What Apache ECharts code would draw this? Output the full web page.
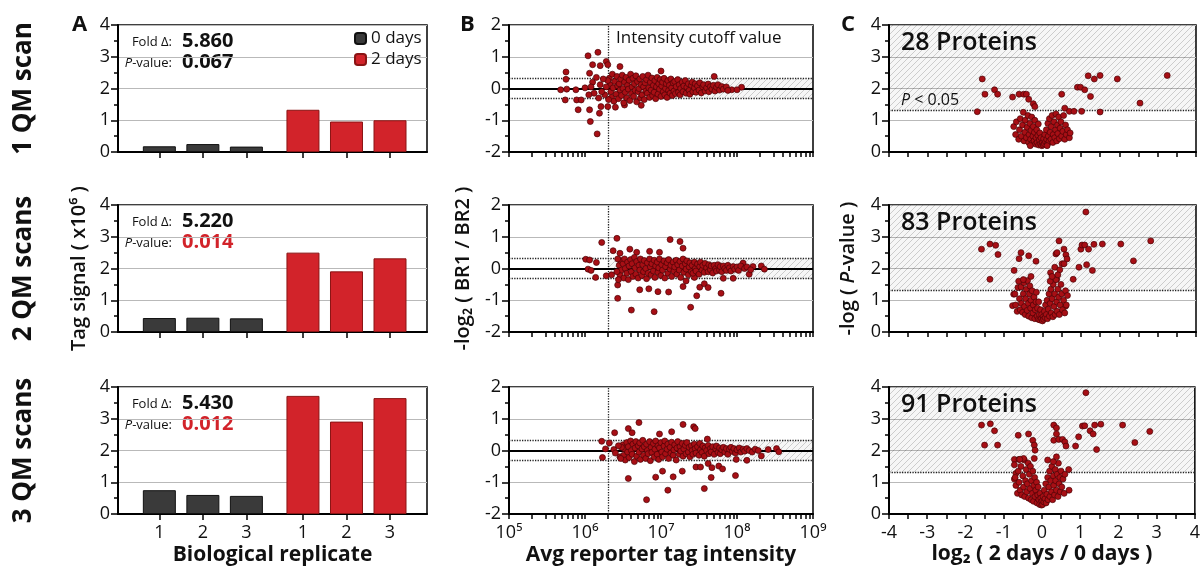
<!DOCTYPE html>
<html><head><meta charset="utf-8">
<script src="https://cdn.jsdelivr.net/npm/echarts@6/dist/echarts.min.js"></script>
<style>html,body{margin:0;padding:0;background:#fff}#c{width:1203px;height:571px}</style>
</head><body><div id="c"></div><script>
// ---------------- DATA ----------------
const rowNames = ['1 QM scan', '2 QM scans', '3 QM scans'];
const panelLetters = ['A', 'B', 'C'];
const replicates = ['1', '2', '3'];
const seriesNames = ['0 days', '2 days'];
// Tag signal (x10^6), per replicate
const day0Signal_1QM = [0.18, 0.25, 0.17];
const day2Signal_1QM = [1.33, 0.96, 1.00];
const day0Signal_2QM = [0.44, 0.45, 0.43];
const day2Signal_2QM = [2.50, 1.91, 2.32];
const day0Signal_3QM = [0.75, 0.60, 0.57];
const day2Signal_3QM = [3.72, 2.91, 3.65];
const foldChange = ['5.860', '5.220', '5.430'];
const pValues = ['0.067', '0.014', '0.012'];
const significantProteins = [28, 83, 91];
const intensityTickLabels = ['10⁵', '10⁶', '10⁷', '10⁸', '10⁹'];
const intensityCutoff = 2e6;
const ratioCutoff = 0.32;
const pCutoffLog = 1.301;

// MA plots: [log10(avg reporter intensity), -log2(BR1/BR2)]
const maPlot_1QM = [
[5.68,-0.04],[5.75,0.52],[5.75,0.29],[5.76,-0.02],[5.74,-0.36],[5.88,-0.04],[5.89,-0.36],[5.91,-0.67],[5.95,-0.36],[6.0,0.02],
[6.04,1.03],[6.17,1.14],[6.06,-0.67],[6.07,-1.04],[6.16,-1.43],[6.19,-0.78],[6.21,-0.57],[6.1,0.75],[6.06,0.48],[6.2,0.72],
[6.28,0.85],[6.3,0.75],[6.46,0.69],[6.3,-0.57],[6.4,-0.59],[6.52,-0.52],[6.74,-0.53],[7.0,0.55],[7.7,0.38],[7.84,0.01],
[7.93,-0.04],[8.06,0.04],[8.0,-0.04],[6.1,0.2],[6.12,-0.15],[6.15,0.35],[6.18,-0.3],[6.2,0.12],[6.05,-0.2],[6.08,0.05],
[6.32,0.32],[6.33,0.12],[6.34,-0.1],[6.35,-0.28],[6.36,0.45],[6.37,0.02],[6.38,-0.4],[6.39,0.22],[6.41,-0.18],[6.42,0.38],
[6.43,0.08],[6.44,-0.32],[6.45,0.15],[6.46,-0.05],[6.47,0.3],[6.48,-0.22],[6.49,0.42],[6.5,0.0],[6.51,-0.45],[6.52,0.2],
[6.53,-0.12],[6.54,0.35],[6.55,-0.3],[6.56,0.1],[6.57,-0.02],[6.58,0.26],[6.59,-0.38],[6.6,0.45],[6.61,-0.16],[6.62,0.05],
[6.63,0.32],[6.64,-0.25],[6.65,0.15],[6.66,-0.06],[6.67,0.4],[6.68,-0.42],[6.69,0.22],[6.7,-0.1],[6.71,0.0],[6.72,0.3],
[6.73,-0.3],[6.74,0.12],[6.75,-0.2],[6.76,0.38],[6.77,0.05],[6.78,-0.35],[6.79,0.18],[6.8,-0.08],[6.81,0.28],[6.82,-0.15],
[6.83,0.42],[6.84,0.02],[6.85,-0.28],[6.86,0.2],[6.87,-0.05],[6.88,0.33],[6.89,-0.22],[6.9,0.1],[6.91,-0.12],[6.92,0.25],
[6.93,-0.32],[6.94,0.05],[6.95,0.35],[6.96,-0.18],[6.97,0.15],[6.98,-0.02],[6.99,0.28],[7.0,-0.25],[7.01,0.08],[7.02,0.2],
[7.03,-0.1],[7.04,0.32],[7.05,-0.2],[7.06,0.0],[7.07,0.15],[7.08,-0.28],[7.09,0.25],[7.1,-0.06],[7.11,0.1],[7.12,-0.15],
[7.13,0.3],[7.14,0.02],[7.15,-0.22],[7.16,0.18],[7.17,-0.08],[7.18,0.22],[7.19,-0.16],[7.2,0.06],[7.22,0.28],[7.23,-0.12],
[7.24,0.12],[7.25,-0.2],[7.26,0.0],[7.28,0.2],[7.29,-0.1],[7.3,0.08],[7.32,0.25],[7.33,-0.15],[7.34,0.04],[7.36,0.15],
[7.37,-0.06],[7.38,-0.18],[7.4,0.1],[7.41,0.2],[7.42,-0.1],[7.44,0.02],[7.45,0.15],[7.46,-0.12],[7.48,0.08],[7.5,-0.05],
[7.51,0.18],[7.53,-0.14],[7.55,0.05],[7.56,0.12],[7.58,-0.08],[7.6,0.02],[7.62,0.14],[7.63,-0.1],[7.65,0.06],[7.67,-0.02],
[7.69,0.1],[7.71,-0.08],[7.73,0.04],[7.75,0.12],[7.77,-0.05],[7.8,0.06],[7.82,-0.02],[7.86,0.05],[7.88,-0.06],[6.28,0.05],
[6.26,-0.2],[6.3,0.25],[6.31,-0.35],[6.24,0.3],[6.22,-0.1]
];
const maPlot_2QM = [
[6.01,0.29],[6.06,0.27],[6.04,-0.02],[6.08,-0.06],[6.14,-0.28],[6.15,0.19],[6.22,0.82],[6.28,-0.23],[6.35,-0.2],[6.37,0.56],
[6.42,0.95],[6.43,-0.52],[6.43,-0.94],[6.46,0.48],[6.59,0.61],[6.61,-1.31],[6.68,0.51],[6.72,-0.67],[6.85,0.54],[6.84,-0.64],
[6.96,-0.73],[6.91,-1.36],[6.98,0.51],[7.1,-0.74],[7.12,0.91],[7.25,0.85],[7.29,0.64],[7.29,-0.57],[7.33,-0.39],[7.39,-1.22],
[7.44,-0.28],[7.47,-0.86],[7.51,-0.59],[7.57,-0.48],[7.62,-0.6],[7.79,-0.78],[7.82,-0.31],[7.95,-0.31],[8.16,-0.18],[8.32,0.08],
[8.36,-0.02],[8.21,0.06],[8.08,0.17],[8.06,0.04],
[6.45,0.1],[6.46,-0.2],[6.47,0.25],[6.48,-0.05],[6.5,0.15],[6.51,-0.3],[6.52,0.3],[6.53,0.0],[6.55,-0.15],[6.56,0.2],
[6.57,-0.35],[6.58,0.08],[6.6,0.28],[6.61,-0.1],[6.62,0.15],[6.63,-0.25],[6.65,0.35],[6.66,0.02],[6.67,-0.18],[6.68,0.22],
[6.7,-0.3],[6.71,0.1],[6.72,-0.05],[6.73,0.3],[6.75,-0.22],[6.76,0.12],[6.77,-0.1],[6.78,0.25],[6.8,0.0],[6.81,-0.32],
[6.82,0.18],[6.83,-0.15],[6.85,0.3],[6.86,0.05],[6.87,-0.2],[6.88,0.15],[6.9,-0.08],[6.91,0.26],[6.92,-0.28],[6.93,0.08],
[6.95,0.2],[6.96,-0.12],[6.97,0.02],[6.98,0.3],[7.0,-0.22],[7.01,0.12],[7.02,-0.05],[7.04,0.24],[7.05,-0.3],[7.06,0.06],
[7.08,0.18],[7.09,-0.15],[7.1,0.28],[7.12,-0.02],[7.13,0.1],[7.14,-0.25],[7.16,0.2],[7.17,-0.08],[7.18,0.05],[7.2,0.26],
[7.21,-0.18],[7.22,0.12],[7.24,-0.05],[7.25,0.22],[7.26,-0.28],[7.28,0.08],[7.29,0.3],[7.3,-0.12],[7.32,0.15],[7.33,-0.02],
[7.34,0.24],[7.36,-0.2],[7.37,0.05],[7.38,0.18],[7.4,-0.1],[7.41,0.1],[7.42,-0.15],[7.44,0.2],[7.45,0.0],[7.46,-0.08],
[7.48,0.14],[7.5,-0.18],[7.51,0.06],[7.52,0.2],[7.54,-0.05],[7.55,0.1],[7.57,-0.12],[7.58,0.16],[7.6,0.02],[7.62,-0.1],
[7.63,0.12],[7.65,-0.04],[7.66,0.08],[7.68,-0.14],[7.7,0.1],[7.72,0.0],[7.73,-0.08],[7.75,0.12],[7.77,-0.05],[7.78,0.06],
[7.8,-0.1],[7.82,0.08],[7.84,0.0],[7.86,-0.06],[7.88,0.1],[7.9,0.02],[7.92,-0.08],[7.95,0.06],[7.97,-0.02],[8.0,0.05],
[8.02,-0.06],[8.05,0.08],[8.1,0.0],[8.13,0.05],[8.18,-0.04],[6.43,0.3],[6.42,-0.1],[6.44,-0.35]
];
const maPlot_3QM = [
[6.22,0.29],[6.23,-0.22],[6.27,0.05],[6.32,0.24],[6.39,0.56],[6.38,0.03],[6.46,-0.2],[6.57,0.69],[6.62,0.56],[6.57,-0.88],
[6.71,0.88],[6.81,-1.55],[6.93,-0.84],[6.98,0.52],[7.02,-0.65],[7.09,-1.25],[7.14,0.59],[7.16,-0.83],[7.28,-0.65],[7.29,0.82],
[7.43,0.75],[7.45,0.69],[7.46,-0.52],[7.52,-0.52],[7.57,-1.2],[7.62,-0.41],[7.61,0.36],[7.66,-0.85],[7.67,-0.54],[7.76,-0.49],
[7.81,-0.58],[7.98,-0.79],[7.99,-0.28],[8.13,-0.31],[8.32,-0.17],[8.52,0.06],[8.55,-0.04],[8.41,0.03],
[6.5,0.18],[6.51,-0.15],[6.52,0.05],[6.53,-0.3],[6.55,0.25],[6.56,-0.05],[6.57,0.12],[6.58,-0.22],[6.6,0.3],[6.61,0.0],
[6.62,-0.12],[6.63,0.2],[6.65,-0.35],[6.66,0.08],[6.67,0.28],[6.68,-0.18],[6.7,0.15],[6.71,-0.05],[6.72,0.24],[6.73,-0.28],
[6.75,0.05],[6.76,0.32],[6.77,-0.15],[6.78,0.12],[6.8,-0.25],[6.81,0.2],[6.82,0.0],[6.83,-0.1],[6.85,0.28],[6.86,-0.32],
[6.87,0.1],[6.88,-0.06],[6.9,0.22],[6.91,-0.2],[6.92,0.04],[6.93,0.3],[6.95,-0.12],[6.96,0.15],[6.97,-0.28],[6.98,0.08],
[7.0,0.25],[7.01,-0.05],[7.02,-0.2],[7.04,0.14],[7.05,0.3],[7.06,-0.1],[7.08,0.04],[7.09,0.2],[7.1,-0.25],[7.12,0.1],
[7.13,-0.08],[7.14,0.26],[7.16,-0.15],[7.17,0.02],[7.18,0.18],[7.2,-0.3],[7.21,0.08],[7.22,0.28],[7.24,-0.12],[7.25,0.12],
[7.26,-0.02],[7.28,0.22],[7.29,-0.18],[7.3,0.05],[7.32,0.16],[7.33,-0.1],[7.34,0.25],[7.36,-0.05],[7.37,0.1],[7.38,-0.2],
[7.4,0.15],[7.41,0.0],[7.42,-0.12],[7.44,0.2],[7.45,0.06],[7.46,-0.08],[7.48,0.12],[7.5,-0.15],[7.51,0.22],[7.52,0.02],
[7.54,-0.06],[7.55,0.14],[7.57,-0.18],[7.58,0.08],[7.6,0.0],[7.62,0.16],[7.63,-0.1],[7.65,0.06],[7.66,-0.04],[7.68,0.12],
[7.7,-0.12],[7.72,0.05],[7.73,0.14],[7.75,-0.06],[7.77,0.08],[7.78,-0.1],[7.8,0.02],[7.82,0.1],[7.84,-0.05],[7.86,0.06],
[7.88,-0.12],[7.9,0.04],[7.92,0.1],[7.94,-0.03],[7.96,0.06],[7.98,-0.08],[8.0,0.02],[8.03,0.08],[8.05,-0.05],[8.08,0.04],
[8.1,-0.02],[8.13,0.06],[8.16,0.0],[8.2,-0.05],[8.24,0.04],[8.28,0.0],[6.48,0.1],[6.47,-0.25],[6.44,0.15],[6.4,-0.08]
];

// Volcano plots: [log2(2 days / 0 days), -log(P-value)]
const volcano_1QM = [
[-1.7,1.27],[-1.57,2.3],[-1.5,1.82],[-1.25,1.96],[-1.17,1.82],[-0.78,1.73],[-0.61,1.82],[-0.49,1.82],[-0.42,1.82],[-0.36,1.66],
[-0.24,1.52],[-0.2,1.43],[0.5,1.82],[0.58,1.38],[0.7,1.28],[0.82,1.28],[0.91,2.04],[0.99,2.04],[1.02,1.28],[1.1,1.96],
[1.19,2.4],[1.25,1.75],[1.35,2.3],[1.5,2.41],[1.5,1.26],[1.95,2.3],[2.54,1.54],[3.25,2.41],
[-0.75,0.8],[-0.7,0.55],[-0.68,0.95],[-0.62,0.4],[-0.6,0.7],[-0.58,1.05],[-0.55,0.5],[-0.52,0.85],[-0.5,1.25],[-0.48,0.35],
[-0.46,0.62],[-0.45,1.0],[-0.42,0.45],[-0.4,0.78],[-0.38,1.15],[-0.36,0.3],[-0.35,0.55],[-0.33,0.9],[-0.31,0.4],[-0.3,0.68],
[-0.28,1.1],[-0.27,0.28],[-0.25,0.5],[-0.24,0.8],[-0.22,0.35],[-0.21,0.62],[-0.2,1.0],[-0.18,0.25],[-0.17,0.45],[-0.15,0.7],
[-0.14,0.3],[-0.12,0.52],[-0.11,0.88],[-0.1,0.22],[-0.08,0.38],[-0.07,0.6],[-0.05,0.25],[-0.04,0.45],[-0.02,0.2],[0.0,0.3],
[0.02,0.22],[0.03,0.42],[0.05,0.26],[0.06,0.55],[0.08,0.32],[0.1,0.7],[0.11,0.4],[0.13,0.25],[0.14,0.9],[0.15,0.5],
[0.17,0.33],[0.18,1.05],[0.2,0.62],[0.22,0.4],[0.23,0.8],[0.25,1.15],[0.27,0.3],[0.28,0.55],[0.3,0.95],[0.32,0.45],
[0.34,0.7],[0.35,1.2],[0.37,0.35],[0.39,0.85],[0.4,0.58],[0.42,1.1],[0.44,0.42],[0.46,0.75],[0.48,0.95],[0.5,0.5],
[0.53,0.65],[0.55,1.15],[0.58,0.4],[0.6,0.85],[0.62,0.55],[0.65,0.7],[0.7,0.45],[0.72,0.6],[-0.32,0.2],[0.12,0.2]
];
const volcano_2QM = [
[-1.59,2.61],[-1.37,2.77],[-1.37,1.66],[-1.22,2.73],[-1.16,2.44],[-0.74,1.94],[-0.75,1.19],[-0.78,0.83],[-0.61,2.31],[-0.56,2.5],
[-0.36,2.4],[-0.17,2.23],[0.21,1.87],[0.32,2.04],[0.35,2.46],[0.38,2.5],[0.43,2.87],[0.45,1.96],[0.51,2.15],[0.56,2.61],
[0.61,2.43],[0.64,2.3],[0.56,2.15],[0.37,1.66],[0.8,1.66],[0.6,0.81],[0.95,2.04],[1.0,2.61],[1.03,2.74],[1.1,2.74],
[1.13,3.78],[1.15,2.12],[1.2,2.61],[1.3,1.94],[1.34,2.76],[1.56,2.77],[2.04,2.77],[2.37,2.24],[2.82,2.87],
[-0.72,1.2],[-0.7,0.85],[-0.66,0.65],[-0.64,1.4],[-0.6,1.05],[-0.58,0.7],[-0.56,1.42],[-0.55,0.9],[-0.52,0.62],[-0.5,1.2],
[-0.48,1.55],[-0.47,0.8],[-0.45,0.55],[-0.44,1.05],[-0.42,1.35],[-0.4,0.68],[-0.39,1.62],[-0.37,0.9],[-0.36,0.5],[-0.34,1.2],
[-0.33,1.45],[-0.31,0.75],[-0.3,1.0],[-0.28,0.45],[-0.27,1.3],[-0.25,0.6],[-0.24,0.85],[-0.22,1.1],[-0.2,0.42],[-0.19,0.7],
[-0.17,0.95],[-0.16,1.25],[-0.14,0.5],[-0.13,0.75],[-0.11,0.4],[-0.1,0.95],[-0.08,0.55],[-0.07,0.38],[-0.05,0.7],[-0.03,0.42],
[-0.02,0.55],[0.0,0.35],[0.02,0.48],[0.03,0.4],[0.05,0.65],[0.07,0.45],[0.08,0.85],[0.1,0.55],[0.12,1.0],[0.13,0.42],
[0.15,0.72],[0.17,1.2],[0.18,0.5],[0.2,0.9],[0.22,1.35],[0.23,0.6],[0.25,1.05],[0.27,0.48],[0.28,1.5],[0.3,0.8],
[0.32,1.2],[0.33,0.55],[0.35,1.65],[0.37,0.95],[0.38,0.65],[0.4,1.35],[0.42,1.1],[0.44,0.55],[0.46,0.85],[0.48,1.5],
[0.5,1.2],[0.52,0.7],[0.55,1.0],[0.58,0.6],[0.6,1.3],[0.62,0.85],[0.65,1.15],[-0.62,1.6],[-0.5,1.65],[-0.3,1.75],
[0.2,1.6],[0.25,1.75],[0.4,1.8]
];
const volcano_3QM = [
[-1.58,2.8],[-1.5,2.17],[-1.35,2.84],[-1.24,2.62],[-1.16,2.17],[-0.62,2.48],[-0.35,2.52],[-0.24,2.32],[-0.2,2.17],[-0.18,2.01],
[0.31,2.8],[0.38,2.71],[0.31,2.32],[0.38,2.52],[0.44,2.35],[0.54,2.35],[0.6,2.27],[0.63,2.14],[0.7,1.4],[0.71,0.75],
[0.88,2.14],[0.96,2.43],[1.06,2.77],[1.12,2.78],[1.15,3.82],[1.26,2.62],[1.34,2.52],[1.38,2.8],[1.43,2.03],[1.54,2.83],
[2.11,2.8],[2.43,2.25],[2.82,2.6],[-0.72,1.72],[-0.6,1.72],[-0.72,1.1],[-0.68,1.28],
[-0.72,1.55],[-0.7,1.15],[-0.68,0.9],[-0.64,0.65],[-0.62,1.35],[-0.6,1.0],[-0.57,0.75],[-0.55,1.5],[-0.53,0.6],[-0.5,1.2],
[-0.48,0.85],[-0.46,1.7],[-0.45,0.55],[-0.43,1.05],[-0.41,1.4],[-0.4,0.7],[-0.38,0.95],[-0.36,1.6],[-0.35,0.5],[-0.33,1.25],
[-0.31,0.8],[-0.3,1.5],[-0.28,0.45],[-0.27,1.05],[-0.25,0.65],[-0.24,1.35],[-0.22,0.4],[-0.21,0.9],[-0.19,1.15],[-0.18,0.55],
[-0.16,0.75],[-0.14,1.0],[-0.13,0.35],[-0.11,0.6],[-0.1,0.85],[-0.08,0.45],[-0.06,0.3],[-0.05,0.65],[-0.03,0.5],[-0.01,0.28],
[0.0,0.4],[0.02,0.3],[0.03,0.55],[0.05,0.38],[0.06,0.75],[0.08,0.48],[0.1,0.95],[0.11,0.35],[0.13,0.62],[0.15,1.15],
[0.16,0.45],[0.18,0.85],[0.2,1.35],[0.21,0.55],[0.23,1.05],[0.25,0.7],[0.26,1.5],[0.28,0.45],[0.3,1.2],[0.31,0.9],
[0.33,0.6],[0.35,1.4],[0.36,1.05],[0.38,0.75],[0.4,1.25],[0.42,0.55],[0.43,1.6],[0.45,0.95],[0.47,1.15],[0.48,0.7],
[0.5,1.35],[0.52,0.85],[0.55,1.1],[0.58,0.65],[0.6,1.25],[-0.2,1.75],[0.15,1.7],[0.3,1.65],[0.38,1.8],[-0.48,1.75],
[-0.58,1.72]
];

// ---------------- LAYOUT / STYLE ----------------
const FONT = '"Open Sans","DejaVu Sans",sans-serif';
const day0 = [day0Signal_1QM, day0Signal_2QM, day0Signal_3QM];
const day2 = [day2Signal_1QM, day2Signal_2QM, day2Signal_3QM];
const maPlots = [maPlot_1QM, maPlot_2QM, maPlot_3QM];
const volcanos = [volcano_1QM, volcano_2QM, volcano_3QM];
const colLeft = [118, 509, 889];
const colWidth = [309, 304, 307];
const rowTop = [25, 205, 387];
const rowH = 127;
const GROUP_SHIFT = 3.3;
const barPos0 = replicates.map((_, i) => i + 1);
const barPos2 = replicates.map((_, i) => i + 1 + GROUP_SHIFT);
const barTickPos = barPos0.concat(barPos2);
const RED = '#d2232a', DARK = '#3a3a3a', PT = '#a70f15';

function hatchPattern() {
  const c = document.createElement('canvas');
  c.width = 6; c.height = 6;
  const g = c.getContext('2d');
  g.fillStyle = 'rgba(0,0,0,0.035)';
  g.fillRect(0, 0, 6, 6);
  g.strokeStyle = 'rgba(0,0,0,0.22)';
  g.lineWidth = 0.8;
  g.beginPath();
  g.moveTo(0, 6); g.lineTo(6, 0);
  g.moveTo(-1, 1); g.lineTo(1, -1);
  g.moveTo(5, 7); g.lineTo(7, 5);
  g.stroke();
  return { image: c, repeat: 'repeat' };
}
const HATCH = hatchPattern();

const logTicks = [];
for (let e = 5; e <= 8; e++) for (let m = 1; m <= 9; m++) logTicks.push(m * Math.pow(10, e));
logTicks.push(1e9);

const axisLineStyle = { show: true, onZero: false, lineStyle: { color: '#000', width: 2 } };
const tickStyle = { color: '#000', width: 1.5 };
const labelBase = { color: '#111', fontSize: 18, fontFamily: FONT };

const grids = [], xAxes = [], yAxes = [], series = [];
for (let col = 0; col < 3; col++) {
  for (let r = 0; r < 3; r++) {
    grids.push({ left: colLeft[col], top: rowTop[r], width: colWidth[col], height: rowH,
      show: true, borderColor: '#000', borderWidth: 1.5, backgroundColor: 'transparent' });
  }
}
// X axes
for (let r = 0; r < 3; r++) {
  xAxes.push({ gridIndex: r, type: 'value', min: 0.05, max: 7.15,
    axisLine: axisLineStyle,
    axisTick: { show: true, length: 6, lineStyle: tickStyle, customValues: barTickPos },
    axisLabel: Object.assign({ show: r === 2, margin: 10, customValues: barTickPos,
      formatter: v => replicates[barTickPos.findIndex(p => Math.abs(p - v) < 1e-6) % 3] }, labelBase),
    splitLine: { show: false },
    name: r === 2 ? 'Biological replicate' : '', nameLocation: 'middle', nameGap: 31,
    nameTextStyle: { fontSize: 21, fontWeight: 'bold', color: '#111', fontFamily: FONT } });
}
for (let r = 0; r < 3; r++) {
  xAxes.push({ gridIndex: 3 + r, type: 'log', logBase: 10, min: 1e5, max: 1e9,
    axisLine: axisLineStyle,
    axisTick: { show: true, length: 5, lineStyle: tickStyle, customValues: logTicks },
    axisLabel: Object.assign({ show: r === 2, margin: 10,
      formatter: v => intensityTickLabels[Math.round(Math.log10(v)) - 5] }, labelBase),
    splitLine: { show: false },
    name: r === 2 ? 'Avg reporter tag intensity' : '', nameLocation: 'middle', nameGap: 31,
    nameTextStyle: { fontSize: 21, fontWeight: 'bold', color: '#111', fontFamily: FONT } });
}
for (let r = 0; r < 3; r++) {
  xAxes.push({ gridIndex: 6 + r, type: 'value', min: -4, max: 4, interval: 1,
    axisLine: axisLineStyle,
    axisTick: { show: true, length: 5, lineStyle: tickStyle },
    minorTick: { show: true, splitNumber: 2, length: 5, lineStyle: tickStyle },
    axisLabel: Object.assign({ show: r === 2, margin: 10 }, labelBase),
    splitLine: { show: false },
    name: r === 2 ? 'log₂ ( 2 days / 0 days )' : '', nameLocation: 'middle', nameGap: 30,
    nameTextStyle: { fontSize: 21, fontWeight: 'bold', color: '#111', fontFamily: FONT } });
}
// Y axes
function yAx(gi, min, max, name, gap, rich) {
  return { gridIndex: gi, type: 'value', min: min, max: max, interval: 1,
    axisLine: axisLineStyle,
    axisTick: { show: true, length: 7, lineStyle: tickStyle },
    minorTick: { show: true, splitNumber: 2, length: 4, lineStyle: tickStyle },
    axisLabel: Object.assign({ margin: 8 }, labelBase),
    splitLine: { show: true, lineStyle: { color: '#b9b9b9', width: 1.2 } },
    name: name || '', nameLocation: 'middle', nameGap: gap || 30,
    nameTextStyle: { fontSize: 20, fontWeight: 600, color: '#111', fontFamily: FONT, rich: rich || {} } };
}
for (let r = 0; r < 3; r++) yAxes.push(yAx(r, 0, 4, r === 1 ? 'Tag signal ( x10⁶ )' : '', 29));
for (let r = 0; r < 3; r++) yAxes.push(yAx(3 + r, -2, 2, r === 1 ? '-log₂ ( BR1 / BR2 )' : '', 36));
for (let r = 0; r < 3; r++) yAxes.push(yAx(6 + r, 0, 4, r === 1 ? '-log ( {i|P}-value )' : '', 31,
  { i: { fontStyle: 'italic', fontSize: 20, fontWeight: 600, fontFamily: FONT, color: '#111' } }));

// Series
for (let r = 0; r < 3; r++) {
  series.push({ name: seriesNames[0], type: 'bar', xAxisIndex: r, yAxisIndex: r, barWidth: 33, barGap: '-100%',
    data: day0[r].map((v, i) => [barPos0[i], v]),
    itemStyle: { color: DARK, borderColor: '#111', borderWidth: 1 } });
  series.push({ name: seriesNames[1], type: 'bar', xAxisIndex: r, yAxisIndex: r, barWidth: 33, barGap: '-100%',
    data: day2[r].map((v, i) => [barPos2[i], v]),
    itemStyle: { color: RED, borderColor: '#8a1414', borderWidth: 1 } });
}
const ptStyle = { color: PT, borderColor: '#4a0306', borderWidth: 0.7, opacity: 1 };
for (let r = 0; r < 3; r++) {
  series.push({ type: 'scatter', xAxisIndex: 3 + r, yAxisIndex: 3 + r, z: 3, symbolSize: 6,
    data: maPlots[r].map(d => [Math.pow(10, d[0]), d[1]]), itemStyle: ptStyle,
    markArea: { silent: true, z: 1, itemStyle: { color: HATCH },
      data: [[{ xAxis: intensityCutoff, yAxis: -ratioCutoff }, { xAxis: 1e9, yAxis: ratioCutoff }]] },
    markLine: { silent: true, z: 2, symbol: 'none', label: { show: false },
      lineStyle: { type: 'dotted', color: '#222', width: 1.3 },
      data: [{ yAxis: ratioCutoff }, { yAxis: -ratioCutoff }, { xAxis: intensityCutoff },
        { yAxis: 0, lineStyle: { type: 'solid', color: '#000', width: 2 } }] } });
}
for (let r = 0; r < 3; r++) {
  series.push({ type: 'scatter', xAxisIndex: 6 + r, yAxisIndex: 6 + r, z: 3, symbolSize: 6,
    data: volcanos[r], itemStyle: ptStyle,
    markArea: { silent: true, z: 1, itemStyle: { color: HATCH },
      data: [[{ xAxis: -4, yAxis: pCutoffLog }, { xAxis: 4, yAxis: 4 }]] },
    markLine: { silent: true, z: 2, symbol: 'none', label: { show: false },
      lineStyle: { type: 'dotted', color: '#222', width: 1.3 },
      data: [{ yAxis: pCutoffLog }] } });
}

// Texts
const graphic = [];
function txt(x, y, text, size, weight, opts) {
  graphic.push(Object.assign({ type: 'text', x: x, y: y, silent: true,
    style: Object.assign({ text: text, fontSize: size, fontWeight: weight || 'normal', fontFamily: FONT,
      fill: '#111', align: 'left', verticalAlign: 'middle' }, (opts && opts.style) || {}) },
    (opts && opts.el) || {}));
}
const letterX = [72, 460, 841];
panelLetters.forEach((L, i) => txt(letterX[i], 25, L, 22, 'bold'));
rowNames.forEach((n, r) => txt(24, rowTop[r] + rowH / 2, n, 26, 'bold',
  { style: { align: 'center' }, el: { rotation: Math.PI / 2 } }));
for (let r = 0; r < 3; r++) {
  const t = rowTop[r];
  txt(172, t + 17, 'Fold Δ:', 13, 'normal', { style: { align: 'right' } });
  txt(182, t + 16, foldChange[r], 20, 'bold');
  txt(172, t + 38, '{i|P}-value:', 13, 'normal', { style: { align: 'right',
    rich: { i: { fontStyle: 'italic', fontSize: 13, fontFamily: FONT, fill: '#111' } } } });
  txt(182, t + 37, pValues[r], 20, 'bold', { style: { fill: parseFloat(pValues[r]) < 0.05 ? RED : '#111' } });
  txt(901, t + 18, significantProteins[r] + ' Proteins', 25, 600);
}
txt(616, 38, 'Intensity cutoff value', 17, 'normal');
txt(901, 100, '{i|P} < 0.05', 16, 'normal', { style: {
  rich: { i: { fontStyle: 'italic', fontSize: 16, fontFamily: FONT, fill: '#111' } } } });

const chart = echarts.init(document.getElementById('c'), null, { renderer: 'canvas' });
chart.setOption({
  animation: false,
  backgroundColor: '#fff',
  textStyle: { fontFamily: FONT },
  grid: grids, xAxis: xAxes, yAxis: yAxes, series: series, graphic: graphic,
  legend: { data: seriesNames, left: 354, top: 30, orient: 'vertical', itemWidth: 11, itemHeight: 11,
    itemGap: 4, padding: 0, selectedMode: false,
    textStyle: { fontSize: 17, fontFamily: FONT, color: '#111', lineHeight: 17 } }
});
</script></body></html>
